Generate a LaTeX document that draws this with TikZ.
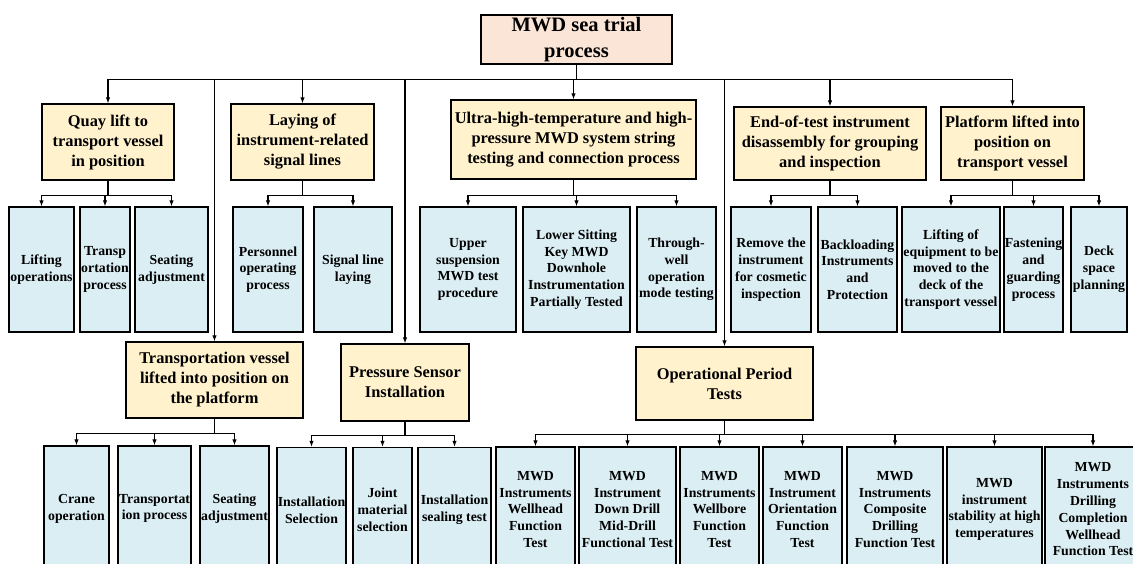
\documentclass[tikz,border=0pt]{standalone}
\usepackage{fontspec}
\setmainfont{Liberation Serif}
\usepackage{tikz}
\usetikzlibrary{arrows.meta}

\definecolor{rootfill}{HTML}{FBE5D6}
\definecolor{stagefill}{HTML}{FFF2CC}
\definecolor{leaffill}{HTML}{DAEEF3}

\tikzset{
	box/.style={draw, line width=1.3pt, align=center, inner sep=0pt},
	rootbox/.style={box, fill=rootfill, font=\bfseries\fontsize{20.5}{25.5}\selectfont},
	stagebox/.style={box, fill=stagefill, font=\bfseries\fontsize{16.4}{20}\selectfont},
	leafbox/.style={box, fill=leaffill, minimum height=125, font=\bfseries\fontsize{13.8}{16.8}\selectfont},
	arr/.style={-{Latex[length=6pt,width=4.5pt]}, line width=1.1pt},
}

\begin{document}
\begin{tikzpicture}[x=1pt, y=-1pt]

	\useasboundingbox (0,0) rectangle (1133,563);
	\clip (0,0) rectangle (1133,563);

	% main process and stages
	\node[rootbox, minimum width=191, minimum height=49] (root) at (576.5,39.5) {MWD sea trial\\process};

	\node[stagebox, minimum width=132, minimum height=76] (quay) at (108,142) {Quay lift to\\transport vessel\\in position};
	\node[stagebox, minimum width=143, minimum height=76] (laying) at (302.5,142) {Laying of\\instrument-related\\signal lines};
	\node[stagebox, minimum width=245, minimum height=79] (ultra) at (573.5,139.5) {Ultra-high-temperature and high-\\pressure MWD system string\\testing and connection process};
	\node[stagebox, minimum width=192, minimum height=73] (endtest) at (830,143.5) {End-of-test instrument\\disassembly for grouping\\and inspection};
	\node[stagebox, minimum width=143, minimum height=73] (platform) at (1012.5,143.5) {Platform lifted into\\position on\\transport vessel};

	\node[stagebox, minimum width=177, minimum height=76] (vessel) at (214.5,380) {Transportation vessel\\lifted into position on\\the platform};
	\node[stagebox, minimum width=128, minimum height=77] (sensor) at (405,382.5) {Pressure Sensor\\Installation};
	\node[stagebox, minimum width=177, minimum height=73] (operation) at (724.5,383.5) {Operational Period\\Tests};

	% upper row of steps
	\node[leafbox, minimum width=65] (lift) at (41.5,269.5) {Lifting\\operations};
	\node[leafbox, minimum width=50] (transp) at (105,269.5) {Transp\\ortation\\process};
	\node[leafbox, minimum width=73] (seat) at (171.5,269.5) {Seating\\adjustment};
	\node[leafbox, minimum width=70] (personnel) at (268,269.5) {Personnel\\operating\\process};
	\node[leafbox, minimum width=78] (signal) at (353,269.5) {Signal line\\laying};
	\node[leafbox, minimum width=96] (upper) at (468,269.5) {Upper\\suspension\\MWD test\\procedure};
	\node[leafbox, minimum width=107] (lower) at (576.5,269.5) {Lower Sitting\\Key MWD\\Downhole\\Instrumentation\\Partially Tested};
	\node[leafbox, minimum width=79] (through) at (676.5,269.5) {Through-\\well\\operation\\mode testing};
	\node[leafbox, minimum width=80] (remove) at (771,269.5) {Remove the\\instrument\\for cosmetic\\inspection};
	\node[leafbox, minimum width=79] (backload) at (857.5,269.5) {Backloading\\Instruments\\and\\Protection};
	\node[leafbox, minimum width=98] (equip) at (951,269.5) {Lifting of\\equipment to be\\moved to the\\deck of the\\transport vessel};
	\node[leafbox, minimum width=59] (fasten) at (1033.5,269.5) {Fastening\\and\\guarding\\process};
	\node[leafbox, minimum width=56] (deck) at (1099,269.5) {Deck\\space\\planning};

	% lower row of steps
	\node[leafbox, minimum width=65] (crane) at (76.5,508.5) {Crane\\operation};
	\node[leafbox, minimum width=73] (transpb) at (154.5,508.5) {Transportat\\ion process};
	\node[leafbox, minimum width=69] (seatb) at (234.5,508.5) {Seating\\adjustment};
	\node[leafbox, minimum width=69] (instsel) at (311.5,510) {Installation\\Selection};
	\node[leafbox, minimum width=59] (joint) at (382.5,510) {Joint\\material\\selection};
	\node[leafbox, minimum width=73] (sealing) at (454.5,510) {Installation\\sealing test};
	\node[leafbox, minimum width=79] (wellhead) at (535.5,509.5) {MWD\\Instruments\\Wellhead\\Function\\Test};
	\node[leafbox, minimum width=97] (downdrill) at (627.5,509.5) {MWD\\Instrument\\Down Drill\\Mid-Drill\\Functional Test};
	\node[leafbox, minimum width=79] (wellbore) at (719.5,509.5) {MWD\\Instruments\\Wellbore\\Function\\Test};
	\node[leafbox, minimum width=79] (orient) at (802.5,509.5) {MWD\\Instrument\\Orientation\\Function\\Test};
	\node[leafbox, minimum width=96] (composite) at (895,509.5) {MWD\\Instruments\\Composite\\Drilling\\Function Test};
	\node[leafbox, minimum width=95] (stability) at (994.5,509.5) {MWD\\instrument\\stability at high\\temperatures};
	\node[leafbox, minimum width=96] (completion) at (1093,509.5) {MWD\\Instruments\\Drilling\\Completion\\Wellhead\\Function Test};

	% connectors
	\foreach \c in {quay,laying,ultra,endtest,platform,vessel,sensor,operation}
		\draw[arr] (root.south) -- ++(0,15) -| (\c.north);

	\foreach \c in {lift,transp,seat}
		\draw[arr] (quay.south) -- ++(0,15) -| (\c.north);
	\foreach \c in {personnel,signal}
		\draw[arr] (laying.south) -- ++(0,15) -| (\c.north);
	\foreach \c in {upper,lower,through}
		\draw[arr] (ultra.south) -- ++(0,16) -| (\c.north);
	\foreach \c in {remove,backload}
		\draw[arr] (endtest.south) -- ++(0,15) -| (\c.north);
	\foreach \c in {equip,fasten,deck}
		\draw[arr] (platform.south) -- ++(0,15) -| (\c.north);

	\foreach \c in {crane,transpb,seatb}
		\draw[arr] (vessel.south) -- ++(0,14.5) -| (\c.north);
	\foreach \c in {instsel,joint,sealing}
		\draw[arr] (sensor.south) -- ++(0,14) -| (\c.north);
	\foreach \c in {wellhead,downdrill,wellbore,orient,composite,stability,completion}
		\draw[arr] (operation.south) -- ++(0,14) -| (\c.north);

\end{tikzpicture}
\end{document}
